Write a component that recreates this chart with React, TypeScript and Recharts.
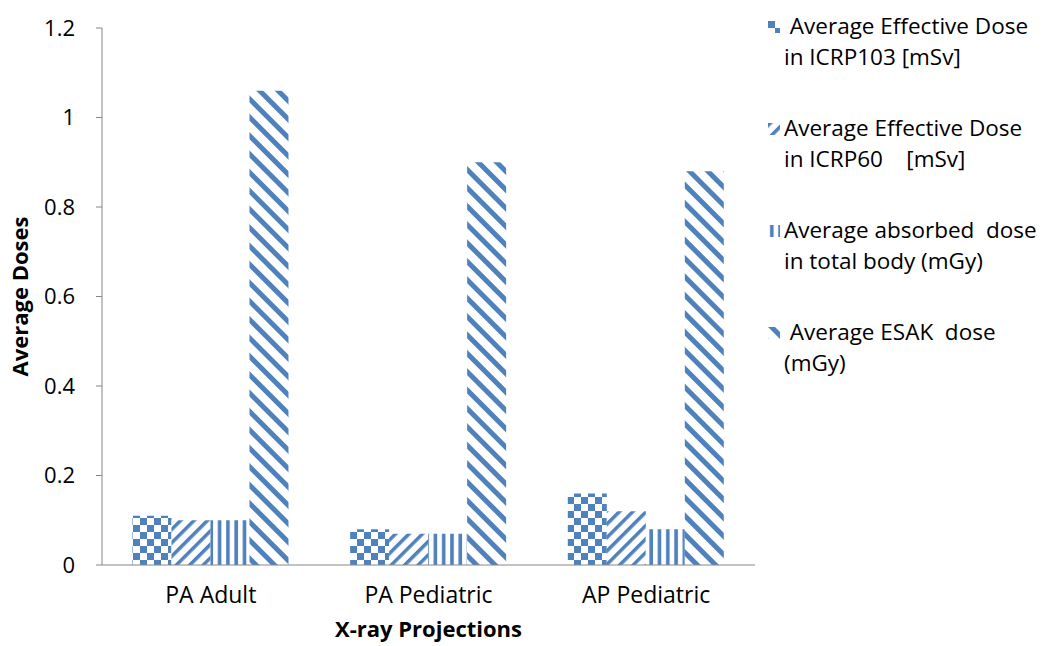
import { BarChart, Bar, XAxis, YAxis } from 'recharts';

const categories = ['PA Adult', 'PA Pediatric', 'AP Pediatric'];
const icrp103 = [0.11, 0.08, 0.16];
const icrp60 = [0.1, 0.07, 0.12];
const absorbed = [0.1, 0.07, 0.08];
const esak = [1.06, 0.9, 0.88];
const yTicks = [0, 0.2, 0.4, 0.6, 0.8, 1, 1.2];

const seriesNames = [
  [' Average Effective Dose', 'in ICRP103 [mSv]'],
  ['Average Effective Dose', 'in ICRP60    [mSv]'],
  ['Average absorbed  dose', 'in total body (mGy)'],
  [' Average ESAK  dose', '(mGy)'],
];

const BLUE = '#4f81bd';
const FONT = '"Open Sans", sans-serif';

const data = categories.map((name, i) => ({
  name,
  icrp103: icrp103[i],
  icrp60: icrp60[i],
  absorbed: absorbed[i],
  esak: esak[i],
}));

const fills = ['url(#checker)', 'url(#diagUp)', 'url(#vstripe)', 'url(#diagDown)'];
const keys = ['icrp103', 'icrp60', 'absorbed', 'esak'];

const Patterns = () => (
  <svg width={0} height={0} style={{ position: 'absolute' }}>
    <defs>
      <pattern id="checker" patternUnits="userSpaceOnUse" width={14} height={14}>
        <rect width={14} height={14} fill="#fff" />
        <rect x={0} y={0} width={7} height={7} fill={BLUE} />
        <rect x={7} y={7} width={7} height={7} fill={BLUE} />
      </pattern>
      <pattern id="diagUp" patternUnits="userSpaceOnUse" width={9.5} height={9.5} patternTransform="rotate(45)">
        <rect width={9.5} height={9.5} fill="#fff" />
        <rect x={0} y={0} width={3.5} height={9.5} fill={BLUE} />
      </pattern>
      <pattern id="vstripe" patternUnits="userSpaceOnUse" width={8.3} height={8}>
        <rect width={8.3} height={8} fill="#fff" />
        <rect x={2} y={0} width={3.6} height={8} fill={BLUE} />
      </pattern>
      <pattern id="diagDown" patternUnits="userSpaceOnUse" width={13} height={13} patternTransform="rotate(-45)">
        <rect width={13} height={13} fill="#fff" />
        <rect x={0} y={0} width={5} height={13} fill={BLUE} />
      </pattern>
    </defs>
  </svg>
);

// legend sits to the right of the plot, outside the chart's layout
const LegendBox = () => (
  <div style={{ position: 'absolute', left: 768, top: 10, fontFamily: FONT, fontSize: 22.5, color: '#000' }}>
    {seriesNames.map((lines, i) => (
      <div key={i} style={{ position: 'relative', height: 102 }}>
        <svg width={12} height={12} style={{ position: 'absolute', left: 0, top: 11 }}>
          <rect width={12} height={12} fill={fills[i]} />
        </svg>
        <div style={{ position: 'absolute', left: 16, top: 0, lineHeight: '31px', whiteSpace: 'pre' }}>
          {lines[0]}
          <br />
          {lines[1]}
        </div>
      </div>
    ))}
  </div>
);

const fmt = (v: number) => String(Math.round(v * 10) / 10);

export default function App() {
  return (
    <div style={{ position: 'absolute', left: 0, top: 0, width: 1053, height: 646, background: '#fff' }}>
      <Patterns />
      <BarChart
        width={1053}
        height={646}
        data={data}
        margin={{ top: 28, right: 298, bottom: 0, left: 0 }}
        barCategoryGap="14%"
        barGap={0}
      >
        <XAxis
          dataKey="name"
          height={81}
          stroke="#868686"
          tickLine={false}
          tickSize={0}
          tickMargin={22}
          tick={{ fill: '#000', fontSize: 23, fontFamily: FONT }}
          label={{
            value: 'X-ray Projections',
            position: 'insideBottom',
            offset: 9,
            style: { fontFamily: FONT, fontSize: 22, fontWeight: 'bold', fill: '#000' },
          }}
        />
        <YAxis
          width={102}
          domain={[0, 1.2]}
          ticks={yTicks}
          tickFormatter={fmt}
          stroke="#868686"
          tickSize={6}
          tickMargin={21}
          tick={{ fill: '#000', fontSize: 22, fontFamily: FONT }}
          label={{
            value: 'Average Doses',
            angle: -90,
            position: 'insideLeft',
            offset: 20,
            style: { textAnchor: 'middle', fontFamily: FONT, fontSize: 22, fontWeight: 'bold', fill: '#000' },
          }}
        />
        {keys.map((k, i) => (
          <Bar key={k} dataKey={k} fill={fills[i]} isAnimationActive={false} />
        ))}
      </BarChart>
      <LegendBox />
    </div>
  );
}
